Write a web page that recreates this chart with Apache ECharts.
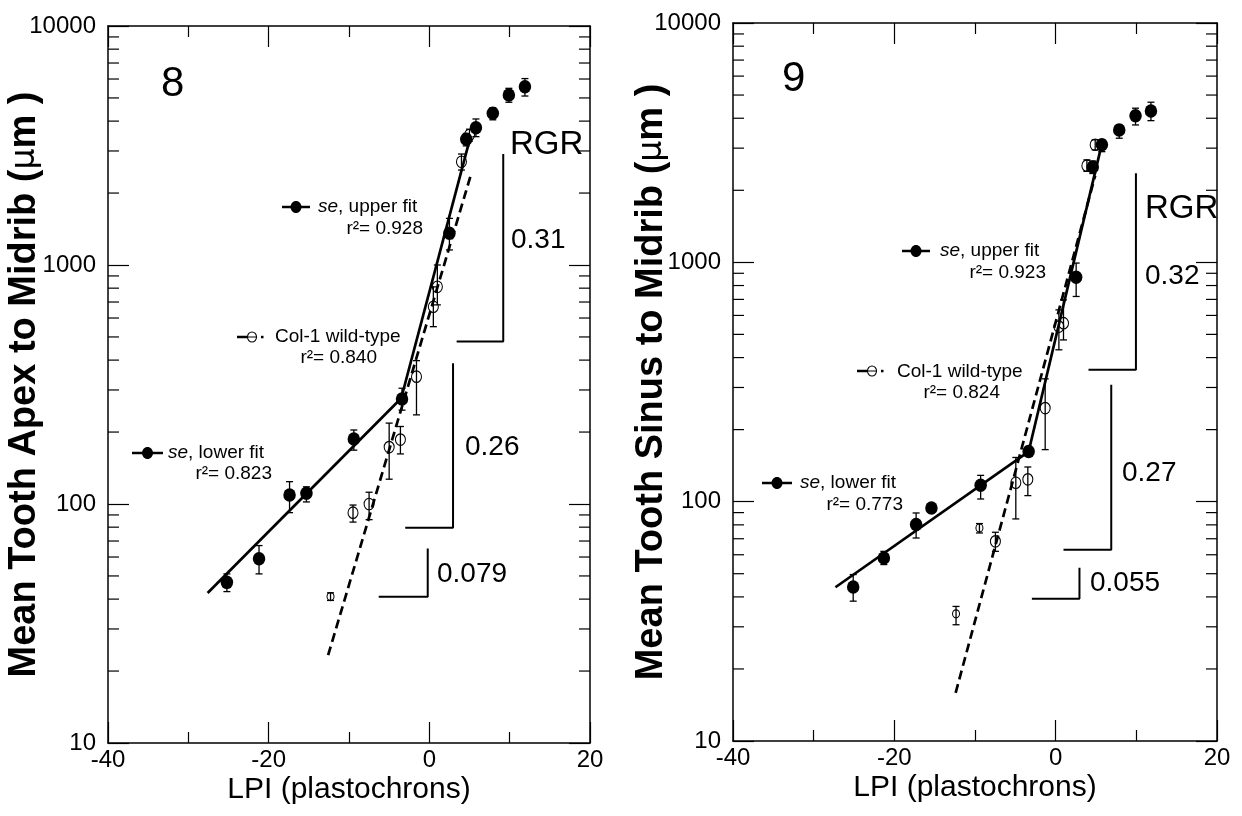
<!DOCTYPE html>
<html><head><meta charset="utf-8">
<script src="https://cdn.jsdelivr.net/npm/echarts@6/dist/echarts.min.js"></script>
<style>html,body{margin:0;padding:0;background:#fff}#c{width:1242px;height:816px}</style>
</head><body><div id="c"></div>
<script>
// ---------- DATA ----------
// Panel 8: Mean Tooth Apex to Midrib (µm)
const lpi8Se     = [-25.2, -21.2, -17.4, -15.3, -9.4, -3.4, 2.5, 4.6, 5.8, 7.9, 9.9, 11.9];
const apex8Se    = [47, 59, 109, 111, 187, 275, 1358, 3357, 3750, 4315, 5140, 5570];
const apex8SeLo  = [43, 51, 92, 102, 168, 247, 1156, 3150, 3443, 4050, 4797, 5093];
const apex8SeHi  = [51, 67, 124, 118, 204, 305, 1567, 3550, 4083, 4550, 5486, 6026];
const lpi8Wt     = [-12.3, -9.5, -7.5, -5.0, -3.6, -1.6, 0.5, 1.0, 4.0, 5.0];
const apex8Wt    = [41, 92, 100, 173, 186, 341, 669, 811, 2704, 3500];
const apex8WtLo  = [39.5, 84, 86, 127, 162, 236, 552, 681, 2496, 3300];
const apex8WtHi  = [42.5, 99, 112, 218, 211, 398, 810, 1000, 2913, 3700];
const fit8LowerX = [-27.6, -3.5], fit8LowerY = [42.4, 277];
const fit8UpperX = [-3.5, 4.9],   fit8UpperY = [277, 3230];
const fit8WtX    = [-12.6, 5.1],  fit8WtY    = [23.3, 2340];
const rgr8Text   = ['0.31', '0.26', '0.079'];
const rgr8X      = [[3.4, 9.2], [-3.0, 2.95], [-6.3, -0.2]];
const rgr8Y      = [[478, 2913], [79.6, 388], [40.9, 65.1]];
const r2Panel8   = ['0.928', '0.840', '0.823'];

// Panel 9: Mean Tooth Sinus to Midrib (µm)
const lpi9Se     = [-25.1, -21.3, -17.3, -15.4, -9.3, -3.35, 2.54, 4.6, 5.73, 7.88, 9.9, 11.81];
const sinus9Se   = [44, 58.2, 80.2, 94.1, 117, 162, 867, 2500, 3097, 3573, 4100, 4292];
const sinus9SeLo = [38.4, 54.6, 70.5, 90, 102.6, 155, 720, 2350, 2900, 3300, 3750, 3908];
const sinus9SeHi = [49.6, 62, 89.7, 98, 128.8, 170, 993, 2650, 3250, 3750, 4406, 4667];
const lpi9Wt     = [-12.35, -9.45, -7.47, -4.94, -3.45, -1.3, 0.4, 0.97, 3.87, 4.9];
const sinus9Wt   = [34, 77.7, 68.3, 120, 124, 246, 539, 557, 2535, 3100];
const sinus9WtLo = [30.6, 74, 62, 84.7, 106, 165, 431, 474, 2400, 2950];
const sinus9WtHi = [36.5, 81, 74.5, 153, 139.6, 326, 633, 697, 2680, 3250];
const fit9LowerX = [-27.3, -3.35], fit9LowerY = [43.9, 162];
const fit9UpperX = [-3.35, 5.6],   fit9UpperY = [162, 3000];
const fit9WtX    = [-12.4, 4.9],   fit9WtY    = [15.9, 2300];
const rgr9Text   = ['0.32', '0.27', '0.055'];
const rgr9X      = [[4.07, 9.95], [0.97, 6.89], [-2.95, 2.95]];
const rgr9Y      = [[356, 2356], [63, 308], [39.3, 52.9]];
const r2Panel9   = ['0.923', '0.824', '0.773'];

// axes
const xMin = -40, xMax = 20, xInterval = 20;
const yMin = 10, yMax = 10000;
const xTitle = 'LPI (plastochrons)';
const yTitles = ['Mean Tooth Apex to Midrib ({mu|\u03bc}m )', 'Mean Tooth Sinus to Midrib ({mu|\u03bc}m )'];

// ---------- BUILD ----------
const FONT = '"Liberation Sans", Arial, Helvetica, sans-serif';
const chart = echarts.init(document.getElementById('c'), null, {renderer: 'canvas'});

const grids = [
  {left: 108, top: 26, width: 482, height: 717, containLabel: false, outerBoundsMode: 'none'},
  {left: 733, top: 23, width: 484, height: 718, containLabel: false, outerBoundsMode: 'none'}
];

function xAxis(g, pos) {
  const main = pos === 'bottom';
  return {
    type: 'value', gridIndex: g, position: pos, min: xMin, max: xMax, interval: xInterval,
    axisLine: {show: true, onZero: false, lineStyle: {color: '#000', width: 1.5}},
    axisTick: {show: true, inside: true, length: 21, lineStyle: {color: '#000', width: 1.2}},
    minorTick: {show: true, splitNumber: 2, length: 11, lineStyle: {color: '#000', width: 1.2}},
    splitLine: {show: false}, minorSplitLine: {show: false},
    axisLabel: {show: main, color: '#000', fontSize: 24, fontFamily: FONT, margin: 5},
    name: main ? xTitle : '', nameLocation: 'middle', nameGap: 32, nameMoveOverlap: false,
    nameTextStyle: {color: '#000', fontSize: 30, fontFamily: FONT}
  };
}
function yAxis(g, pos) {
  const main = pos === 'left';
  return {
    type: 'log', logBase: 10, gridIndex: g, position: pos, min: yMin, max: yMax,
    axisLine: {show: true, onZero: false, lineStyle: {color: '#000', width: 1.5}},
    axisTick: {show: true, inside: true, length: 21, lineStyle: {color: '#000', width: 1.2}},
    minorTick: {show: false}, splitLine: {show: false},
    axisLabel: {show: main, color: '#000', fontSize: 24, fontFamily: FONT, margin: 12,
      formatter: v => String(Math.round(v))},
    name: main ? yTitles[g] : '', nameLocation: 'middle', nameGap: g === 0 ? 64 : 62, nameRotate: 90,
    nameMoveOverlap: false,
    nameTextStyle: {color: '#000', fontSize: 38, fontWeight: 'bold', fontFamily: FONT,
      rich: {mu: {fontSize: 33, fontWeight: 'normal', fontFamily: '"DejaVu Sans", sans-serif', color: '#000'}}}
  };
}

const minorVals = [];
[10, 100, 1000].forEach(d => { for (let k = 2; k <= 9; k++) minorVals.push([xMin, k * d]); });

function panelSeries(g, P) {
  const xi = g * 2, yi = g * 2;
  const base = {xAxisIndex: xi, yAxisIndex: yi, silent: true, animation: false};
  const zip2 = (a, b) => a.map((v, i) => [v, b[i]]);
  const s = [];
  // minor log ticks on left and right frame
  s.push(Object.assign({}, base, {
    type: 'custom', data: minorVals, encode: {x: 0, y: 1}, clip: false, z: 1,
    renderItem(params, api) {
      const cs = params.coordSys;
      const y = api.coord([api.value(0), api.value(1)])[1];
      const st = {stroke: '#000', lineWidth: 1.2};
      return {type: 'group', children: [
        {type: 'line', shape: {x1: cs.x, y1: y, x2: cs.x + 11, y2: y}, style: st},
        {type: 'line', shape: {x1: cs.x + cs.width - 11, y1: y, x2: cs.x + cs.width, y2: y}, style: st}
      ]};
    }
  }));
  // fit lines
  const fit = (X, Y, dashed) => Object.assign({}, base, {
    type: 'line', data: zip2(X, Y), symbol: 'none', showSymbol: false, z: 2,
    lineStyle: {color: '#000', width: 2.7, type: dashed ? [9, 5] : 'solid', opacity: 1}
  });
  s.push(fit(P.lowX, P.lowY, false), fit(P.upX, P.upY, false), fit(P.wtX, P.wtY, true));
  // RGR brackets
  P.rgrX.forEach((bx, i) => {
    const by = P.rgrY[i];
    s.push(Object.assign({}, base, {
      type: 'line', data: [[bx[0], by[0]], [bx[1], by[0]], [bx[1], by[1]]], symbol: 'none', z: 2,
      lineStyle: {color: '#000', width: 2}
    }));
  });
  // error bars
  const eb = (X, Y, LO, HI) => Object.assign({}, base, {
    type: 'custom', data: X.map((x, i) => [x, Y[i], LO[i], HI[i]]), encode: {x: 0, y: 1}, z: 3,
    renderItem(params, api) {
      const x = api.value(0);
      const p1 = api.coord([x, api.value(2)]), p2 = api.coord([x, api.value(3)]);
      const st = {stroke: '#000', lineWidth: 1.3};
      const w = 3.5;
      return {type: 'group', children: [
        {type: 'line', shape: {x1: p1[0], y1: p1[1], x2: p2[0], y2: p2[1]}, style: st},
        {type: 'line', shape: {x1: p1[0] - w, y1: p1[1], x2: p1[0] + w, y2: p1[1]}, style: st},
        {type: 'line', shape: {x1: p2[0] - w, y1: p2[1], x2: p2[0] + w, y2: p2[1]}, style: st}
      ]};
    }
  });
  s.push(eb(P.seX, P.seY, P.seLo, P.seHi), eb(P.wtPX, P.wtPY, P.wtLo, P.wtHi));
  // open circles (wild type)
  s.push(Object.assign({}, base, {
    type: 'scatter', data: zip2(P.wtPX, P.wtPY), symbol: 'circle', z: 4,
    symbolSize: (v, p) => P.small.indexOf(p.dataIndex) >= 0 ? [7, 8] : [10, 11.5],
    itemStyle: {color: 'rgba(255,255,255,0)', borderColor: '#000', borderWidth: 1.1, opacity: 1}
  }));
  // filled circles (se)
  s.push(Object.assign({}, base, {
    type: 'scatter', data: zip2(P.seX, P.seY), symbol: 'circle', symbolSize: [12.5, 13.5], z: 5,
    itemStyle: {color: '#000', opacity: 1}
  }));
  return s;
}

const P8 = {seX: lpi8Se, seY: apex8Se, seLo: apex8SeLo, seHi: apex8SeHi,
  wtPX: lpi8Wt, wtPY: apex8Wt, wtLo: apex8WtLo, wtHi: apex8WtHi,
  lowX: fit8LowerX, lowY: fit8LowerY, upX: fit8UpperX, upY: fit8UpperY, wtX: fit8WtX, wtY: fit8WtY,
  rgrX: rgr8X, rgrY: rgr8Y, small: [0]};
const P9 = {seX: lpi9Se, seY: sinus9Se, seLo: sinus9SeLo, seHi: sinus9SeHi,
  wtPX: lpi9Wt, wtPY: sinus9Wt, wtLo: sinus9WtLo, wtHi: sinus9WtHi,
  lowX: fit9LowerX, lowY: fit9LowerY, upX: fit9UpperX, upY: fit9UpperY, wtX: fit9WtX, wtY: fit9WtY,
  rgrX: rgr9X, rgrY: rgr9Y, small: [0, 1]};

// ---------- annotations (in-plot legends and labels) ----------
const G = [];
function txt(x, y, text, size, align, extra) {
  G.push({type: 'text', x: x, y: y, silent: true, z: 10, style: Object.assign({
    text: text, fill: '#000', fontSize: size, fontFamily: FONT, textAlign: align || 'left',
    textVerticalAlign: 'middle'}, extra || {})});
}
function seIcon(x0, x1, y) {
  G.push({type: 'line', silent: true, z: 10, shape: {x1: x0, y1: y, x2: x1, y2: y}, style: {stroke: '#000', lineWidth: 2.5}});
  G.push({type: 'ellipse', silent: true, z: 10, shape: {cx: (x0 + x1) / 2, cy: y, rx: 5.5, ry: 6}, style: {fill: '#000'}});
}
function wtIcon(x0, y) {
  G.push({type: 'line', silent: true, z: 10, shape: {x1: x0, y1: y, x2: x0 + 10, y2: y}, style: {stroke: '#000', lineWidth: 2.5}});
  G.push({type: 'ellipse', silent: true, z: 10, shape: {cx: x0 + 15, cy: y, rx: 4.5, ry: 5}, style: {fill: '#fff', stroke: '#000', lineWidth: 1.1}});
  G.push({type: 'line', silent: true, z: 10, shape: {x1: x0 + 10, y1: y, x2: x0 + 20, y2: y}, style: {stroke: '#000', lineWidth: 1}});
  G.push({type: 'rect', silent: true, z: 10, shape: {x: x0 + 24, y: y - 1.2, width: 2.5, height: 2.5}, style: {fill: '#000'}});
}
const richI = {i: {fontStyle: 'italic', fontSize: 19, fontFamily: FONT, fill: '#000'}};
function seLabel(x, y, kind) {
  txt(x, y, '{i|se}, ' + kind + ' fit', 19, 'left', {rich: richI});
}

// panel 8
txt(161, 84, '8', 42);
seIcon(282, 310, 207); seLabel(318, 207, 'upper'); txt(423, 229, 'r\u00b2= ' + r2Panel8[0], 19, 'right');
wtIcon(237, 337); txt(275, 337, 'Col-1 wild-type', 19); txt(377, 358, 'r\u00b2= ' + r2Panel8[1], 19, 'right');
seIcon(132, 163, 453); seLabel(168, 453, 'lower'); txt(272, 474, 'r\u00b2= ' + r2Panel8[2], 19, 'right');
txt(510, 145, 'RGR', 33);
txt(511, 240, rgr8Text[0], 28);
txt(465, 447, rgr8Text[1], 28);
txt(437, 574, rgr8Text[2], 28);
// panel 9
txt(782, 79, '9', 42);
seIcon(902, 930, 251); seLabel(940, 251, 'upper'); txt(1046, 273, 'r\u00b2= ' + r2Panel9[0], 19, 'right');
wtIcon(857, 371); txt(897, 372, 'Col-1 wild-type', 19); txt(1000, 393, 'r\u00b2= ' + r2Panel9[1], 19, 'right');
seIcon(762, 792, 483); seLabel(800, 483, 'lower'); txt(903, 505, 'r\u00b2= ' + r2Panel9[2], 19, 'right');
txt(1145, 209, 'RGR', 33);
txt(1145, 276, rgr9Text[0], 28);
txt(1122, 473, rgr9Text[1], 28);
txt(1090, 583, rgr9Text[2], 28);

chart.setOption({
  animation: false,
  backgroundColor: '#fff',
  grid: grids,
  xAxis: [xAxis(0, 'bottom'), xAxis(0, 'top'), xAxis(1, 'bottom'), xAxis(1, 'top')],
  yAxis: [yAxis(0, 'left'), yAxis(0, 'right'), yAxis(1, 'left'), yAxis(1, 'right')],
  series: panelSeries(0, P8).concat(panelSeries(1, P9)),
  graphic: G
});
</script></body></html>
